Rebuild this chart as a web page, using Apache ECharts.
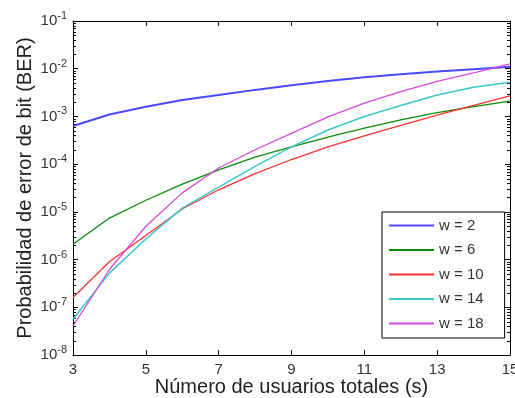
<!DOCTYPE html>
<html>
<head>
<meta charset="utf-8">
<script src="https://cdn.jsdelivr.net/npm/echarts@6/dist/echarts.min.js"></script>
<style>
    html, body { margin: 0; padding: 0; background: #fff; }
    #chart { width: 515px; height: 398px; }
</style>
</head>
<body>
<div id="chart"></div>
<script>
// número de usuarios totales (s)
const users = [3, 4, 5, 6, 7, 8, 9, 10, 11, 12, 13, 14, 15];

// BER, una lista por peso w
const berW2 = [6.3e-4, 1.1e-3, 1.6e-3, 2.2e-3, 2.8e-3, 3.6e-3, 4.5e-3, 5.5e-3, 6.6e-3, 7.7e-3, 8.7e-3, 9.8e-3, 1.1e-2];
const berW6 = [2.1e-6, 7.4e-6, 1.75e-5, 3.8e-5, 7.6e-5, 1.4e-4, 2.3e-4, 3.7e-4, 5.7e-4, 8.5e-4, 1.2e-3, 1.6e-3, 2.1e-3];
const berW10 = [1.6e-7, 9e-7, 3.2e-6, 1.15e-5, 2.9e-5, 6.3e-5, 1.25e-4, 2.3e-4, 3.9e-4, 6.5e-4, 1.07e-3, 1.7e-3, 2.7e-3];
const berW14 = [5.6e-8, 5.2e-7, 2.7e-6, 1.2e-5, 3.3e-5, 9e-5, 2.3e-4, 5.2e-4, 1e-3, 1.7e-3, 2.8e-3, 4.1e-3, 5.2e-3];
const berW18 = [4e-8, 6.2e-7, 5e-6, 2.5e-5, 8.3e-5, 2.0e-4, 4.4e-4, 9.8e-4, 1.9e-3, 3.3e-3, 5.4e-3, 8.2e-3, 1.26e-2];

const names = ['w = 2', 'w = 6', 'w = 10', 'w = 14', 'w = 18'];
const colors = ['#4a4aff', '#0a8a0a', '#ff3030', '#3cc8c8', '#d848d8'];
const widths = [2, 1.3, 1.3, 1.5, 1.3];
const yDecades = [-8, -7, -6, -5, -4, -3, -2];

const allBer = [berW2, berW6, berW10, berW14, berW18];

let chart = echarts.init(document.getElementById('chart'));

const grid = {left: 73, right: 5, top: 21, bottom: 43, outerBoundsMode: 'none', containLabel: false};

function expLabel(v) {
    const e = Math.round(Math.log10(v));
    return '{b|10}{s|' + e + '}';
}

const tickStyle = {show: true, inside: true, length: 5, lineStyle: {color: '#000'}};

let option = {
    animation: false,
    backgroundColor: '#fff',
    textStyle: {fontFamily: 'Liberation Sans, Arial, sans-serif'},
    grid: grid,
    legend: {
        orient: 'vertical',
        left: 382,
        top: 212,
        data: names,
        icon: 'rect',
        itemWidth: 45,
        itemHeight: 2,
        itemGap: 9.5,
        padding: [6, 21, 7, 7],
        borderColor: '#000',
        borderWidth: 1,
        backgroundColor: '#fff',
        textStyle: {fontSize: 15, color: '#333', lineHeight: 15, padding: [0, 0, 0, 0]}
    },
    xAxis: [
        {
            type: 'value',
            min: 3,
            max: 15,
            interval: 2,
            position: 'bottom',
            axisLine: {show: true, lineStyle: {color: '#000'}},
            axisTick: tickStyle,
            splitLine: {show: false},
            axisLabel: {fontSize: 15, color: '#333', margin: 7},
            name: 'Número de usuarios totales (s)',
            nameLocation: 'middle',
            nameMoveOverlap: false,
            nameGap: 22,
            nameTextStyle: {fontSize: 20, color: '#222'}
        },
        {
            type: 'value',
            min: 3,
            max: 15,
            interval: 2,
            position: 'top',
            axisLine: {show: true, lineStyle: {color: '#000'}},
            axisTick: tickStyle,
            splitLine: {show: false},
            axisLabel: {show: false}
        }
    ],
    yAxis: [
        {
            type: 'log',
            logBase: 10,
            min: 1e-8,
            max: 1e-1,
            interval: 1,
            position: 'left',
            axisLine: {show: true, lineStyle: {color: '#000'}},
            axisTick: tickStyle,
            splitLine: {show: false},
            axisLabel: {
                margin: 6,
                formatter: expLabel,
                rich: {
                    b: {fontSize: 15, color: '#333'},
                    s: {fontSize: 11, color: '#333', verticalAlign: 'bottom', padding: [0, 0, 10, 0]}
                }
            },
            name: 'Probabilidad de error de bit (BER)',
            nameLocation: 'middle',
            nameMoveOverlap: false,
            nameGap: 38,
            nameTextStyle: {fontSize: 20, color: '#222'}
        },
        {
            type: 'log',
            logBase: 10,
            min: 1e-8,
            max: 1e-1,
            interval: 1,
            position: 'right',
            axisLine: {show: true, lineStyle: {color: '#000'}},
            axisTick: tickStyle,
            splitLine: {show: false},
            axisLabel: {show: false}
        }
    ],
    series: allBer.map((ber, i) => ({
        name: names[i],
        type: 'line',
        xAxisIndex: 0,
        yAxisIndex: 0,
        showSymbol: false,
        symbol: 'none',
        data: users.map((u, j) => [u, ber[j]]),
        lineStyle: {color: colors[i], width: widths[i]},
        itemStyle: {color: colors[i]},
        z: 2
    }))
};

chart.setOption(option);

// ticks menores del eje logaritmico (2..9 en cada decada), como en MATLAB
let minor = [];
const xl = chart.convertToPixel({xAxisIndex: 0}, 3);
const xr = chart.convertToPixel({xAxisIndex: 0}, 15);
for (const d of yDecades) {
    for (let k = 2; k <= 9; k++) {
        const y = Math.round(chart.convertToPixel({yAxisIndex: 0}, k * Math.pow(10, d))) + 0.5;
        minor.push({type: 'line', shape: {x1: xl, y1: y, x2: xl + 3, y2: y}, style: {stroke: '#000', lineWidth: 1}, silent: true});
        minor.push({type: 'line', shape: {x1: xr - 3, y1: y, x2: xr, y2: y}, style: {stroke: '#000', lineWidth: 1}, silent: true});
    }
}
chart.setOption({graphic: minor});
</script>
</body>
</html>
